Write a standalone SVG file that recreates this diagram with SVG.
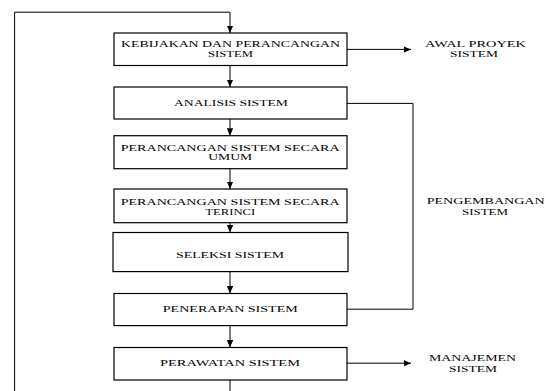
<svg xmlns="http://www.w3.org/2000/svg" width="546" height="391" viewBox="0 0 546 391">
<style>
.box{fill:#fff;stroke:#000;stroke-width:1.2}
.ln{fill:none;stroke:#000;stroke-width:1}
.t{font-family:"Liberation Serif","Times New Roman",serif;font-size:8.3px;fill:#000;text-anchor:middle}
</style>
<defs>
<marker id="ah" markerUnits="userSpaceOnUse" markerWidth="8" markerHeight="7" refX="7.5" refY="3.2" orient="auto">
<path d="M0,0 L7.5,3.2 L0,6.4 z" fill="#000"/>
</marker>
</defs>
<rect width="546" height="391" fill="#fff"/>
<g id="connectors">
<path class="ln" d="M14.6,391 V12.2 H230 V33" marker-end="url(#ah)"/>
<path class="ln" d="M230,65.5 V87" marker-end="url(#ah)"/>
<path class="ln" d="M230,119 V135.7" marker-end="url(#ah)"/>
<path class="ln" d="M230,168.7 V189" marker-end="url(#ah)"/>
<path class="ln" d="M230,222.7 V232.5" marker-end="url(#ah)"/>
<path class="ln" d="M230,271.6 V293.5" marker-end="url(#ah)"/>
<path class="ln" d="M230,325.6 V347.5" marker-end="url(#ah)"/>
<path class="ln" d="M230,380 V391"/>
<path class="ln" d="M347,49.4 H411" marker-end="url(#ah)"/>
<path class="ln" d="M347,363.2 H411" marker-end="url(#ah)"/>
<path class="ln" d="M347,103.4 H413 V309.2 H347"/>
</g>
<g id="n1">
<rect class="box" x="114" y="33" width="233" height="32.5"/>
<text class="t" x="230.5" y="47.4" textLength="219" lengthAdjust="spacingAndGlyphs">KEBIJAKAN DAN PERANCANGAN</text>
<text class="t" x="230.5" y="56.8" textLength="45" lengthAdjust="spacingAndGlyphs">SISTEM</text>
</g>
<g id="n2">
<rect class="box" x="114" y="87" width="233" height="32"/>
<text class="t" x="231" y="106.2" textLength="114" lengthAdjust="spacingAndGlyphs">ANALISIS SISTEM</text>
</g>
<g id="n3">
<rect class="box" x="114" y="135.7" width="233" height="33"/>
<text class="t" x="230.2" y="150.7" textLength="219" lengthAdjust="spacingAndGlyphs">PERANCANGAN SISTEM SECARA</text>
<text class="t" x="230.2" y="160.4" textLength="44" lengthAdjust="spacingAndGlyphs">UMUM</text>
</g>
<g id="n4">
<rect class="box" x="114" y="189" width="233" height="33.7"/>
<text class="t" x="230.2" y="204.8" textLength="219" lengthAdjust="spacingAndGlyphs">PERANCANGAN SISTEM SECARA</text>
<text class="t" x="230.3" y="215.1" textLength="50" lengthAdjust="spacingAndGlyphs">TERINCI</text>
</g>
<g id="n5">
<rect class="box" x="113" y="232.5" width="235" height="39.1"/>
<text class="t" x="230" y="258" textLength="108" lengthAdjust="spacingAndGlyphs">SELEKSI SISTEM</text>
</g>
<g id="n6">
<rect class="box" x="114" y="293.5" width="233" height="32.1"/>
<text class="t" x="230.3" y="312" textLength="135" lengthAdjust="spacingAndGlyphs">PENERAPAN SISTEM</text>
</g>
<g id="n7">
<rect class="box" x="114" y="347.5" width="233" height="32.5"/>
<text class="t" x="230" y="366" textLength="140" lengthAdjust="spacingAndGlyphs">PERAWATAN SISTEM</text>
</g>
<g id="l1">
<text class="t" x="475.5" y="47.4" textLength="101" lengthAdjust="spacingAndGlyphs">AWAL PROYEK</text>
<text class="t" x="474" y="56.8" textLength="48" lengthAdjust="spacingAndGlyphs">SISTEM</text>
</g>
<g id="l2">
<text class="t" x="485.7" y="203.6" textLength="118" lengthAdjust="spacingAndGlyphs">PENGEMBANGAN</text>
<text class="t" x="485" y="215" textLength="46" lengthAdjust="spacingAndGlyphs">SISTEM</text>
</g>
<g id="l3">
<text class="t" x="472.5" y="361.4" textLength="87" lengthAdjust="spacingAndGlyphs">MANAJEMEN</text>
<text class="t" x="473" y="371.8" textLength="48" lengthAdjust="spacingAndGlyphs">SISTEM</text>
</g>
</svg>
